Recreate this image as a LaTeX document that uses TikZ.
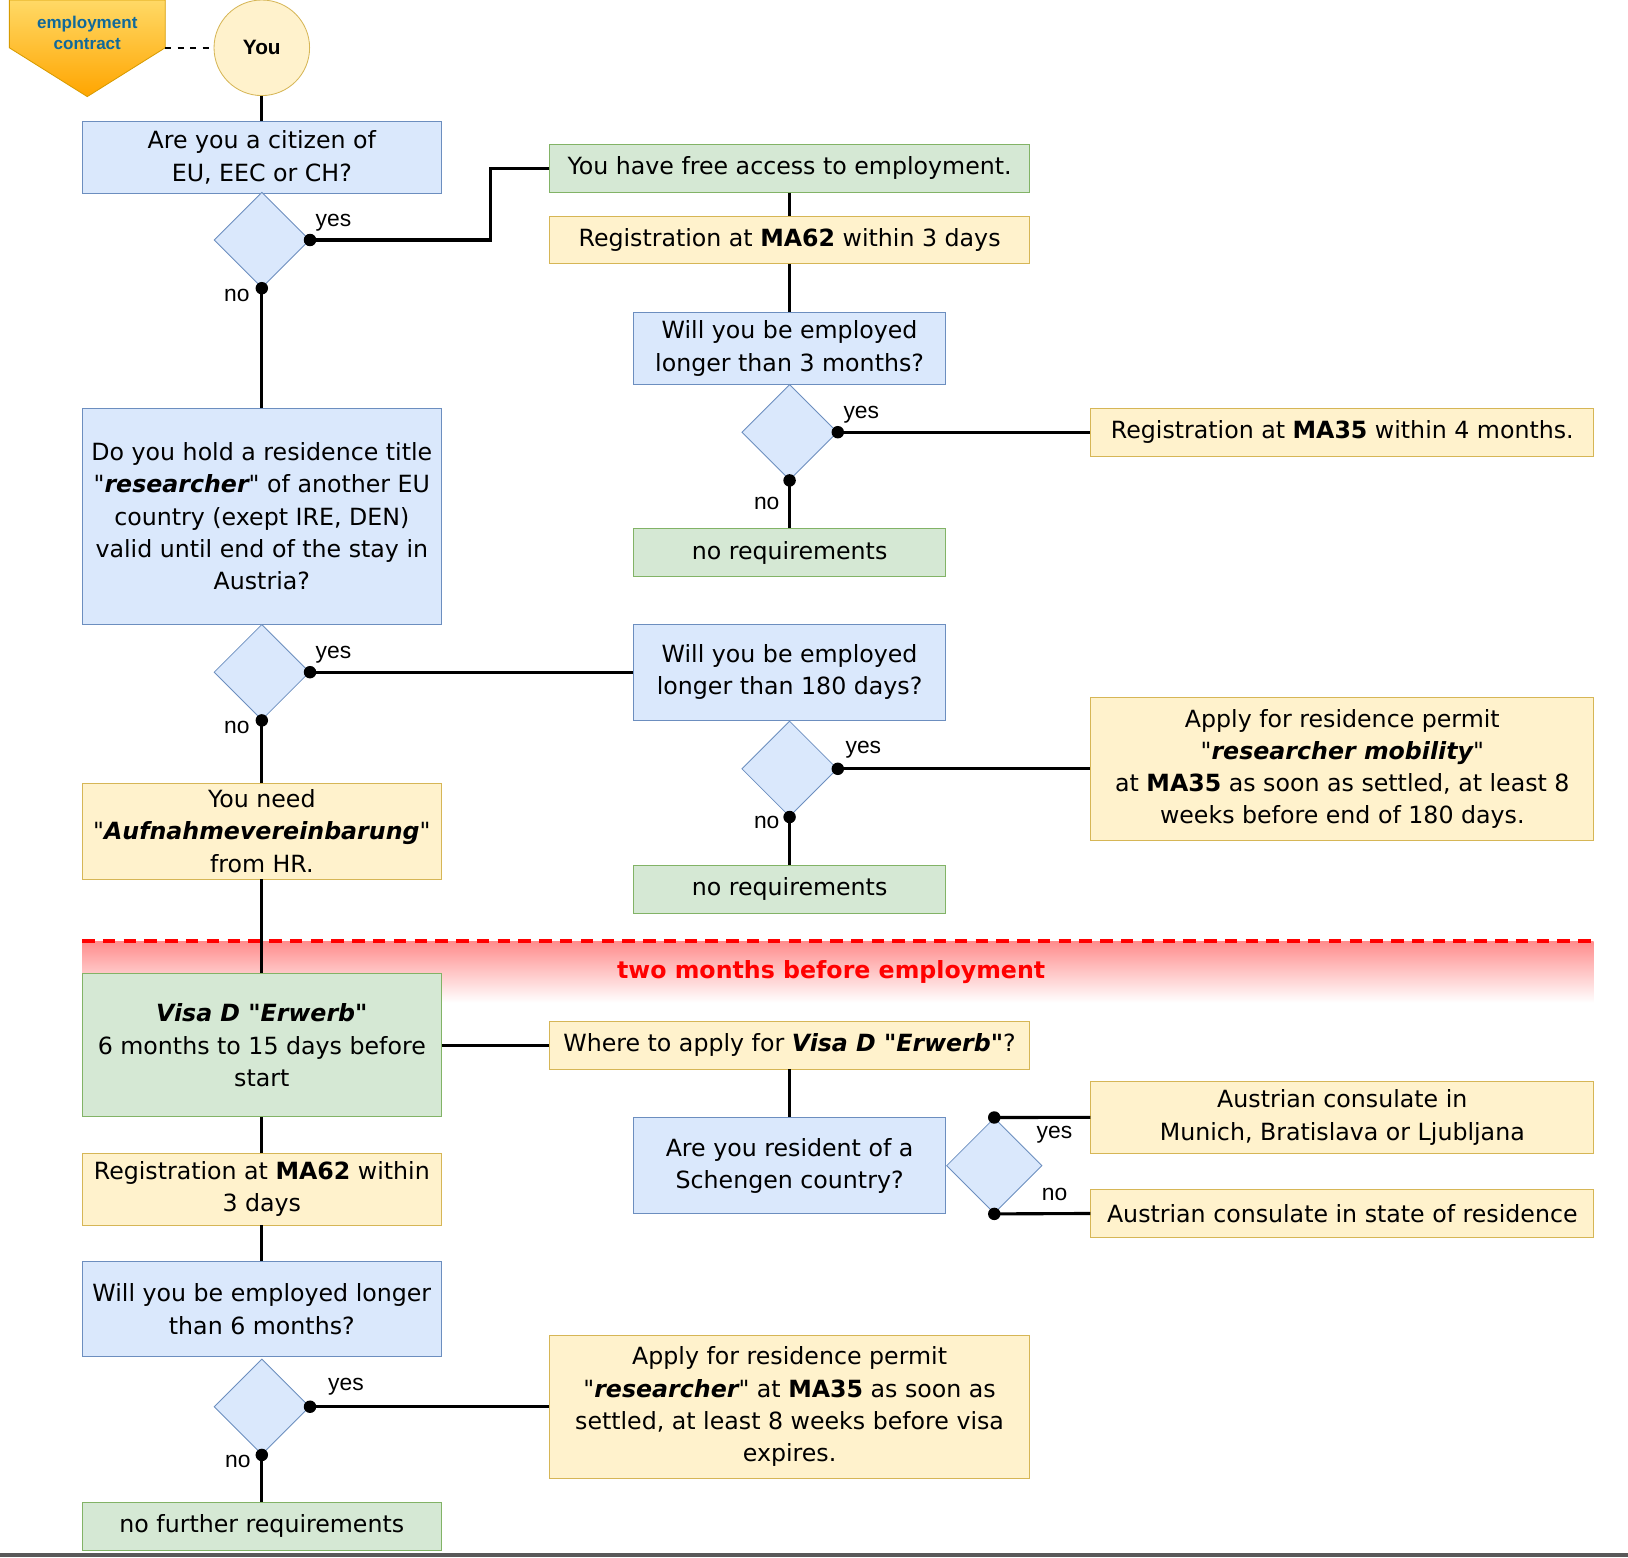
\documentclass[tikz,border=0pt]{standalone}
\usepackage{fontspec}
\setmainfont{DejaVu Sans}
\newfontfamily\arialfont{Liberation Sans}
\usetikzlibrary{shapes.geometric, positioning}

\definecolor{qfill}{HTML}{DAE8FC}
\definecolor{qborder}{HTML}{6C8EBF}
\definecolor{okfill}{HTML}{D5E8D4}
\definecolor{okborder}{HTML}{82B366}
\definecolor{todofill}{HTML}{FFF2CC}
\definecolor{todoborder}{HTML}{D6B656}
\definecolor{contracttop}{HTML}{FFD966}
\definecolor{contractbot}{HTML}{FFA500}
\definecolor{contractborder}{HTML}{D79B00}
\definecolor{contracttext}{HTML}{10699A}

\newcommand{\straightq}{\textquotedbl}

\tikzstyle{conn} = [draw, line width=1.5pt]
\tikzstyle{txt} = [font=\fontsize{11.4}{15.5}\selectfont, align=center, inner sep=0pt]
\tikzstyle{question} = [txt, rectangle, draw=qborder, fill=qfill]
\tikzstyle{okbox} = [txt, rectangle, draw=okborder, fill=okfill]
\tikzstyle{todo} = [txt, rectangle, draw=todoborder, fill=todofill]
\tikzstyle{choice} = [diamond, draw=qborder, fill=qfill, aspect=1, minimum size=46pt, inner sep=0pt]
\tikzstyle{lbl} = [font=\arialfont\fontsize{11}{12}\selectfont, inner sep=0pt]

\begin{document}
\begin{tikzpicture}[x=0.5pt, y=-0.5pt]

    \useasboundingbox (0,0) rectangle (1567,1499);

    % start
    \draw [draw=contractborder, top color=contracttop, bottom color=contractbot]
        (9,0) -- (159,0) -- (159,46) -- (84,93) -- (9,46) -- cycle;
    \node [font=\arialfont\bfseries\fontsize{8.2}{10}\selectfont, text=contracttext, align=center]
        at (84,32) (contract) {employment\\contract};
    \coordinate (contractR) at (159,46);
    \node [circle, draw=todoborder, fill=todofill, minimum size=46pt, inner sep=0pt,
        font=\arialfont\bfseries\fontsize{10}{12}\selectfont] at (252,46) (you) {You};

    % band
    \shade [top color=red!45, bottom color=white] (79,906) rectangle (1534,965);
    \node [font=\bfseries\fontsize{11.4}{14}\selectfont, text=red] at (800,936) (twomonths) {two months before employment};

    % left column
    \node [question, minimum width=173pt, minimum height=34.5pt] at (252,151.5) (citizen) {Are you a citizen of\\EU, EEC or CH?};
    \node [choice] at (252,231) (d1) {};
    \node [question, minimum width=173pt, minimum height=104pt] at (252,497) (holdtitle)
        {Do you hold a residence title\\\textit{\straightq\textbf{researcher}\straightq} of another EU\\country (exept IRE, DEN)\\valid until end of the stay in\\Austria?};
    \node [choice] at (252,647) (d3) {};
    \node [todo, minimum width=173pt, minimum height=46pt] at (252,800) (aufnahme)
        {You need\\\textit{\straightq\textbf{Aufnahmevereinbarung}\straightq}\\from HR.};
    \node [okbox, minimum width=173pt, minimum height=69pt] at (252,1006) (visa)
        {\textbf{\textit{Visa D \straightq Erwerb\straightq}}\\6 months to 15 days before\\start};
    \node [todo, minimum width=173pt, minimum height=34.5pt] at (252,1144.5) (ma62b) {Registration at \textbf{MA62} within\\3 days};
    \node [question, minimum width=173pt, minimum height=46pt] at (252,1260) (sixmonths) {Will you be employed longer\\than 6 months?};
    \node [choice] at (252,1354) (d6) {};
    \node [okbox, minimum width=173pt, minimum height=23pt] at (252,1469) (nofurther) {no further requirements};

    % middle column
    \node [okbox, minimum width=231pt, minimum height=23pt] at (760,162) (free) {You have free access to employment.};
    \node [todo, minimum width=231pt, minimum height=23pt] at (760,231) (ma62a) {Registration at \textbf{MA62} within 3 days};
    \node [question, minimum width=150pt, minimum height=34.5pt] at (760,335.5) (threemonths) {Will you be employed\\longer than 3 months?};
    \node [choice] at (760,416) (d2) {};
    \node [okbox, minimum width=150pt, minimum height=23pt] at (760,532) (noreqa) {no requirements};
    \node [question, minimum width=150pt, minimum height=46pt] at (760,647) (days180) {Will you be employed\\longer than 180 days?};
    \node [choice] at (760,740) (d4) {};
    \node [okbox, minimum width=150pt, minimum height=23pt] at (760,856) (noreqb) {no requirements};
    \node [todo, minimum width=231pt, minimum height=23pt] at (760,1006) (where) {Where to apply for \textbf{\textit{Visa D \straightq Erwerb\straightq}}?};
    \node [question, minimum width=150pt, minimum height=46pt] at (760,1122) (schengen) {Are you resident of a\\Schengen country?};
    \node [choice] at (957,1122) (d5) {};
    \node [todo, minimum width=231pt, minimum height=69pt] at (760,1354) (permit)
        {Apply for residence permit\\\textit{\straightq\textbf{researcher}\straightq} at \textbf{MA35} as soon as\\settled, at least 8 weeks before visa\\expires.};

    % right column
    \node [todo, minimum width=242pt, minimum height=23pt] at (1292,416) (ma35) {Registration at \textbf{MA35} within 4 months.};
    \node [todo, minimum width=242pt, minimum height=69pt] at (1292,740) (mobility)
        {Apply for residence permit\\\textit{\straightq\textbf{researcher mobility}\straightq}\\at \textbf{MA35} as soon as settled, at least 8\\weeks before end of 180 days.};
    \node [todo, minimum width=242pt, minimum height=34.5pt] at (1292,1075.5) (munich) {Austrian consulate in\\Munich, Bratislava or Ljubljana};
    \node [todo, minimum width=242pt, minimum height=23pt] at (1292,1168) (stateres) {Austrian consulate in state of residence};

    \draw [red, line width=2pt, dash pattern=on 6pt off 4pt] (79,906) -- (1534,906);

    % connectors
    \draw [dashed, line width=0.8pt] (contractR) -- (you.west);
    \draw [conn] (you.south) -- (citizen.north);
    \draw [conn] (d1.east) -- ++(174,0) |- (free.west);
    \draw [conn] (free.south) -- (ma62a.north);
    \draw [conn] (ma62a.south) -- (threemonths.north);
    \draw [conn] (d2.east) -- (ma35.west);
    \draw [conn] (d2.south) -- (noreqa.north);
    \draw [conn] (d1.south) -- (holdtitle.north);
    \draw [conn] (d3.east) -- (days180.west);
    \draw [conn] (d4.east) -- (mobility.west);
    \draw [conn] (d4.south) -- (noreqb.north);
    \draw [conn] (d3.south) -- (aufnahme.north);
    \draw [conn] (aufnahme.south) -- (visa.north);
    \draw [conn] (visa.east) -- (where.west);
    \draw [conn] (where.south) -- (schengen.north);
    \draw [conn] (d5.north) -- (munich.west);
    \draw [conn] (d5.south) -- (stateres.west);
    \draw [conn] (visa.south) -- (ma62b.north);
    \draw [conn] (ma62b.south) -- (sixmonths.north);
    \draw [conn] (d6.east) -- (permit.west);
    \draw [conn] (d6.south) -- (nofurther.north);

    \foreach \p in {d1.east, d1.south, d2.east, d2.south, d3.east, d3.south,
        d4.east, d4.south, d5.north, d5.south, d6.east, d6.south}
        \fill (\p) circle (3pt);

    % yes / no
    \node [lbl] at (321,214) (yes1) {yes};
    \node [lbl] at (228,284) (no1) {no};
    \node [lbl] at (829,399) (yes2) {yes};
    \node [lbl] at (738,485) (no2) {no};
    \node [lbl] at (321,630) (yes3) {yes};
    \node [lbl] at (228,700) (no3) {no};
    \node [lbl] at (831,722) (yes4) {yes};
    \node [lbl] at (738,792) (no4) {no};
    \node [lbl] at (1015,1092) (yes5) {yes};
    \node [lbl] at (1015,1150) (no5) {no};
    \node [lbl] at (333,1335) (yes6) {yes};
    \node [lbl] at (229,1407) (no6) {no};

    \fill [black!65] (0,1495) rectangle (1567,1499);

\end{tikzpicture}
\end{document}
